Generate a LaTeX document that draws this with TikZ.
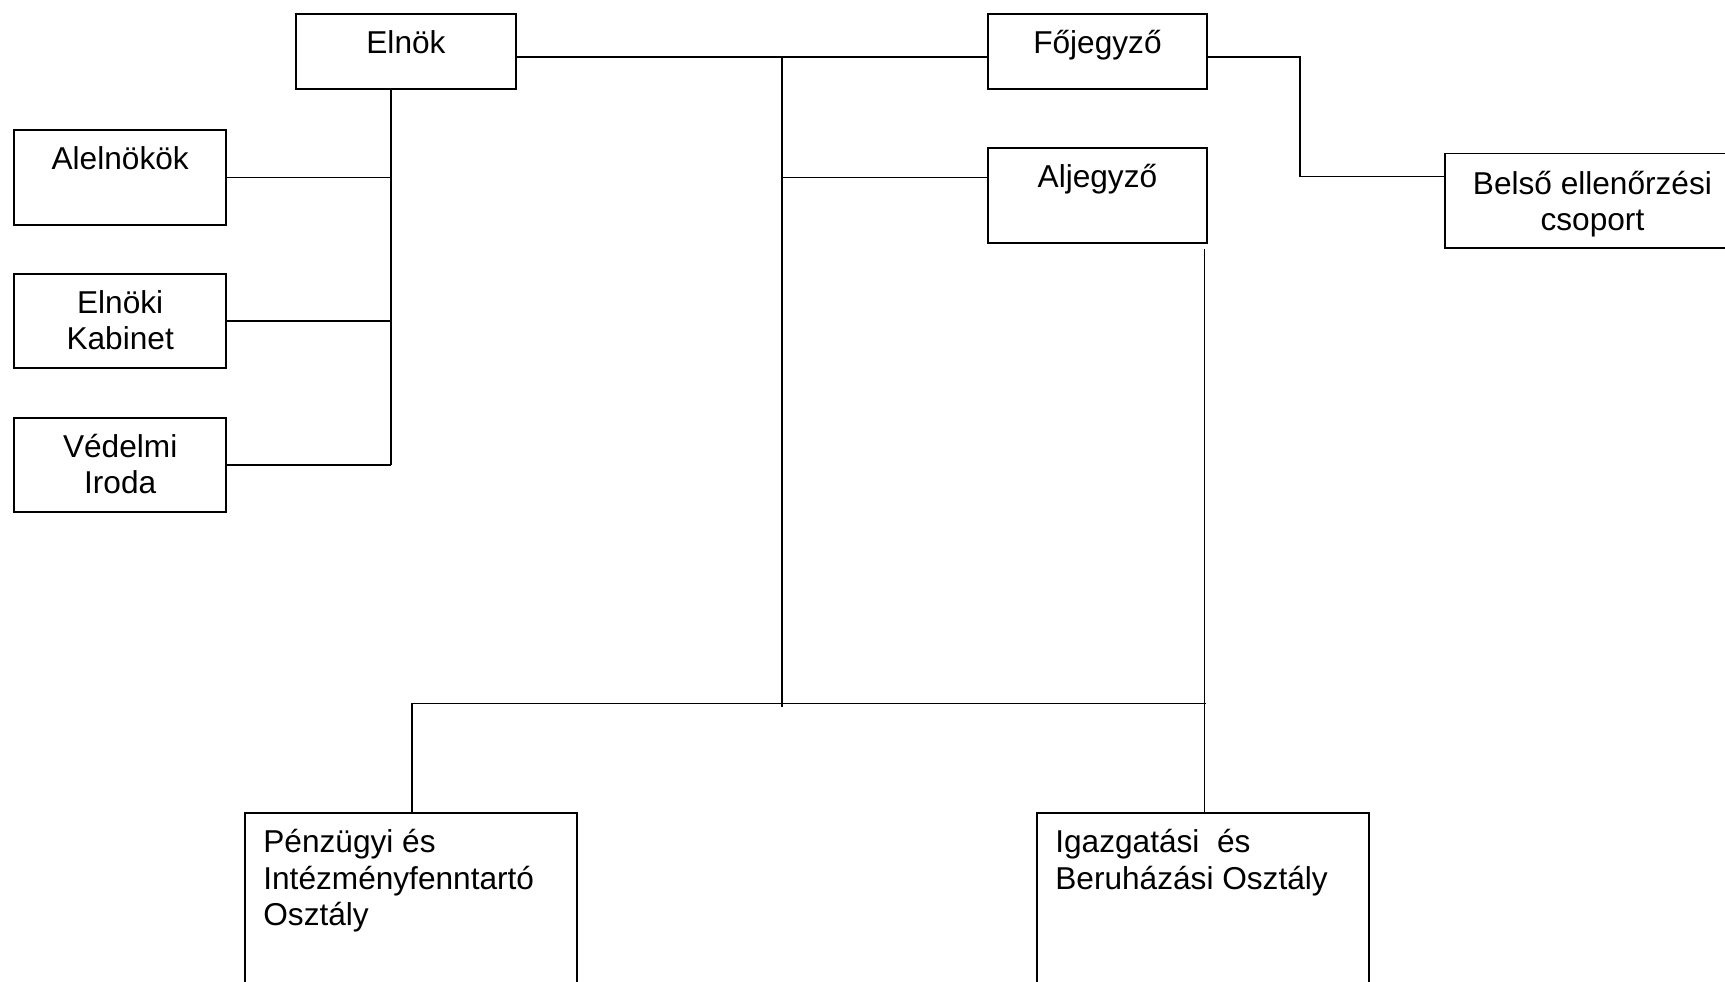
\documentclass[tikz,border=0pt]{standalone}
\usepackage{fontspec}
\setmainfont{Liberation Sans}
\newcommand{\orgstrut}[1]{\rule{0pt}{#1}}

\begin{document}
\begin{tikzpicture}[x=0.02cm,y=-0.02cm,
	orgbox/.style={draw, line width=1.1pt, inner sep=0pt, anchor=north west},
	boxtext/.style={anchor=north, inner sep=0pt, align=center, font=\fontsize{18}{20.6}\selectfont},
	depttext/.style={anchor=north west, inner sep=0pt, xshift=0.38cm, align=left, font=\fontsize{18}{20.6}\selectfont},
	conn/.style={line width=1pt}]
	\useasboundingbox (0,0) rectangle (1725,981);

	\node[orgbox, minimum width=4.4cm, minimum height=1.5cm, label={[boxtext]north:{\orgstrut{0.8cm}Elnök}}] (elnok) at (295,13) {};
	\node[orgbox, minimum width=4.38cm, minimum height=1.5cm, label={[boxtext]north:{\orgstrut{0.8cm}Főjegyző}}] (fojegyzo) at (987,13) {};
	\node[orgbox, minimum width=4.38cm, minimum height=1.9cm, label={[boxtext]north:{\orgstrut{0.8cm}Aljegyző}}] (aljegyzo) at (987,147) {};

	\node[orgbox, minimum width=4.25cm, minimum height=1.9cm, label={[boxtext]north:{\orgstrut{0.8cm}Alelnökök}}] (alelnok) at (13,129) {};
	\node[orgbox, minimum width=4.25cm, minimum height=1.89cm, label={[boxtext]north:{\orgstrut{0.8cm}Elnöki\\Kabinet}}] (kabinet) at (13,273) {};
	\node[orgbox, minimum width=4.25cm, minimum height=1.89cm, label={[boxtext]north:{\orgstrut{0.8cm}Védelmi\\Iroda}}] (vedelmi) at (13,417) {};

	\node[orgbox, minimum width=5.9cm, minimum height=1.89cm, label={[boxtext]north:{\orgstrut{0.83cm}Belső ellenőrzési\\csoport}}] (belso) at (1444,152.5) {};

	\node[orgbox, minimum width=6.64cm, minimum height=4cm, label={[depttext]north west:{\orgstrut{0.81cm}Pénzügyi és\\Intézményfenntartó\\Osztály}}] (penzugyi) at (244,812) {};
	\node[orgbox, minimum width=6.65cm, minimum height=4cm, label={[depttext]north west:{\orgstrut{0.81cm}Igazgatási\ \ és\\Beruházási Osztály}}] (igazgatasi) at (1036,812) {};

	\coordinate (eltrunk) at (391,465);
	\coordinate (top) at (782,57);
	\coordinate (bottom) at (782,707);
	\coordinate (alj) at (782,177.5);
	\coordinate (bend) at (1300,176.5);
	\coordinate (barleft) at (412,703.5);
	\coordinate (barright) at (1206,703.5);
	\coordinate (algap) at (1204.5,249);

	\draw[conn] (elnok.south -| eltrunk) -- (eltrunk);
	\draw[conn] (alelnok.east) -- (alelnok.east -| eltrunk);
	\draw[conn] (kabinet.east) -- (kabinet.east -| eltrunk);
	\draw[conn] (vedelmi.east) -- (vedelmi.east -| eltrunk);

	\draw[conn] (elnok.east |- top) -- (fojegyzo.west |- top);
	\draw[conn] (top) -- (bottom);
	\draw[conn] (alj) -- (aljegyzo.west |- alj);
	\draw[conn] (fojegyzo.east |- top) -| (bend) -- (belso.west |- bend);

	\draw[conn] (penzugyi.north -| barleft) -- (barleft) -- (barright);
	\draw[conn] (algap) -- (igazgatasi.north -| algap);
\end{tikzpicture}
\end{document}
